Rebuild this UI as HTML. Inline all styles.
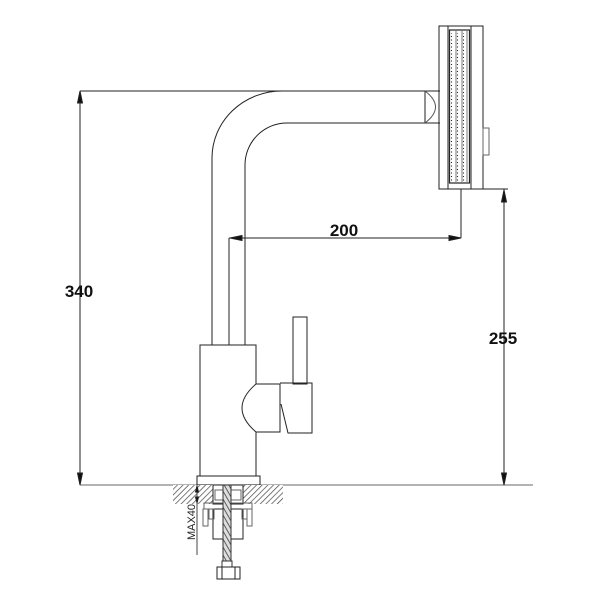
<!DOCTYPE html>
<html><head><meta charset="utf-8"><style>html,body{margin:0;padding:0;background:#fff}svg{display:block}</style></head>
<body>
<svg width="600" height="600" viewBox="0 0 600 600" xmlns="http://www.w3.org/2000/svg">
<defs>
<pattern id="h" width="4" height="4" patternUnits="userSpaceOnUse" patternTransform="rotate(45)">
<rect width="4" height="4" fill="#fff"/><line x1="0" y1="0" x2="0" y2="4" stroke="#444" stroke-width="1.4"/>
</pattern>
<pattern id="r" width="8" height="4" patternUnits="userSpaceOnUse" patternTransform="rotate(60)">
<rect width="8" height="4" fill="#ddd"/><line x1="0" y1="0" x2="8" y2="0" stroke="#333" stroke-width="1.5"/>
</pattern>
<pattern id="d" width="6" height="3.5" patternUnits="userSpaceOnUse" x="0" y="0">
<circle cx="1.5" cy="1.5" r="0.6" fill="#222"/>
</pattern>
</defs>
<g fill="none" stroke="#222" stroke-width="1">
<line x1="80" y1="485" x2="533" y2="485" stroke="#888" stroke-width="1.2"/>
<line x1="80" y1="91" x2="285" y2="91"/>
<line x1="80" y1="91" x2="80" y2="485"/>
<polygon points="80,91 77.5,103 82.5,103" fill="#111"/>
<polygon points="80,485 77.5,473 82.5,473" fill="#111"/>
<path d="M212,345 V158 A70,67 0 0 1 282,91 H440"/>
<path d="M245,345 V165 A42,42 0 0 1 287,123 H440"/>
<line x1="425" y1="91" x2="425" y2="123"/>
<path d="M425,91 Q446,107 425,123" stroke="#555"/>
<rect x="439" y="26" width="44" height="163"/>
<rect x="448" y="26" width="23" height="163"/>
<rect x="449.5" y="30" width="20" height="153" stroke-width="1.2"/>
<line x1="456" y1="31" x2="456" y2="182" stroke="#777"/>
<line x1="462" y1="31" x2="462" y2="182" stroke="#777"/>
<line x1="467" y1="31" x2="467" y2="182" stroke="#777"/>
<rect x="450" y="33" width="20" height="148" fill="url(#d)" stroke="none"/>
<rect x="483" y="128" width="6" height="27" stroke="#666"/>
<line x1="461" y1="189" x2="461" y2="238"/>
<line x1="229" y1="238" x2="461" y2="238"/>
<line x1="229" y1="238" x2="229" y2="345"/>
<polygon points="230,238 242,235.5 242,240.5" fill="#111"/>
<polygon points="461,238 449,235.5 449,240.5" fill="#111"/>
<line x1="483" y1="189" x2="508" y2="189"/>
<line x1="504" y1="189" x2="504" y2="485"/>
<polygon points="504,190 501.5,202 506.5,202" fill="#111"/>
<polygon points="504,485 501.5,473 506.5,473" fill="#111"/>
<rect x="200" y="345" width="56" height="131"/>
<rect x="197" y="476" width="63" height="9"/>
<path d="M256,384 H280 V432 H256 Q228,408 256,384" fill="#fff"/>
<rect x="293" y="317" width="14" height="67"/>
<path d="M280,383 H312 V433 H288 L281,404"/>
<rect x="173" y="485" width="40" height="19" fill="url(#h)" stroke="none"/>
<rect x="243" y="485" width="40" height="19" fill="url(#h)" stroke="none"/>
<rect x="213" y="485" width="30" height="19" fill="#fff"/>
<rect x="215" y="490" width="26" height="10" stroke="#666"/>
<rect x="204" y="503" width="48" height="6" stroke="#666"/>
<rect x="213" y="509" width="30" height="30"/>
<rect x="203" y="509" width="5" height="17" stroke="#666"/>
<rect x="247" y="509" width="5" height="17" stroke="#666"/>
<rect x="209" y="509" width="5" height="10" stroke="#666"/>
<rect x="242" y="509" width="5" height="10" stroke="#666"/>
<rect x="223" y="485" width="8" height="76" fill="url(#r)" stroke="#333"/>
<rect x="222" y="561" width="10" height="6" stroke="#333"/>
<rect x="217" y="567" width="23" height="12"/>
<line x1="222" y1="567" x2="222" y2="579"/><line x1="235" y1="567" x2="235" y2="579"/>
<line x1="197" y1="485" x2="197" y2="555" stroke="#444"/>
<polygon points="197,486 195.5,492 198.5,492" fill="#111"/>
<polygon points="197,503 195.5,497 198.5,497" fill="#111"/>
</g>
<g font-family="Liberation Sans, sans-serif" font-weight="bold" fill="#111">
<text x="344" y="236" font-size="17" text-anchor="middle">200</text>
<text x="79" y="297" font-size="17" text-anchor="middle">340</text>
<text x="503" y="344" font-size="17" text-anchor="middle">255</text>
</g>
<text x="0" y="0" font-family="Liberation Sans, sans-serif" font-size="11" fill="#222" text-anchor="middle" transform="translate(195,522) rotate(-90)">MAX40</text>
</svg>
</body></html>
